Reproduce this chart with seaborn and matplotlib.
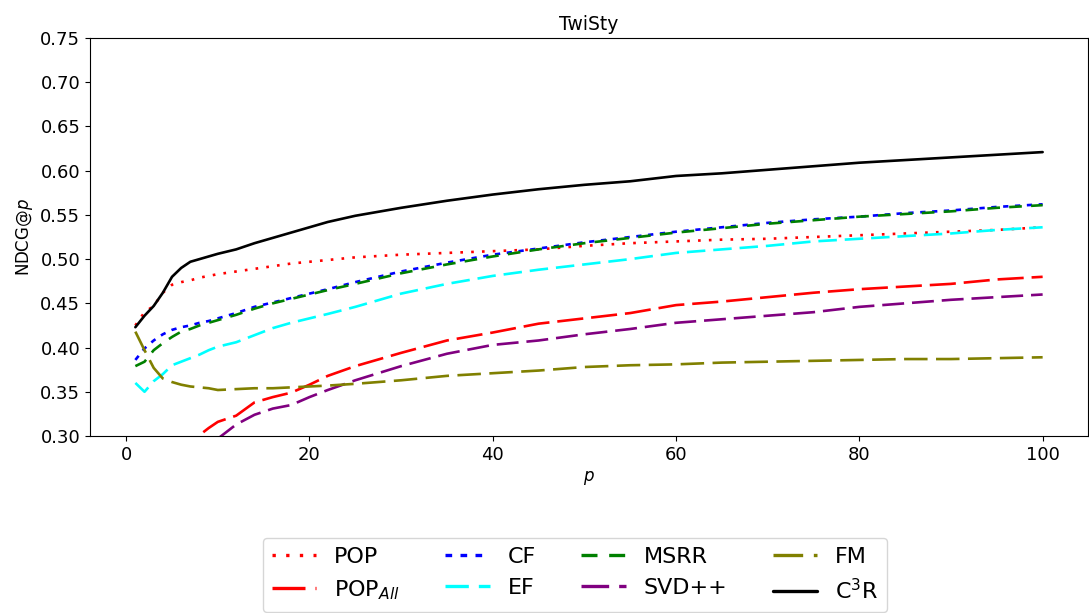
import numpy as np
import pandas as pd
import matplotlib
matplotlib.use("Agg")
import matplotlib.pyplot as plt
import seaborn as sns

p = [1, 2, 3, 4, 5, 6, 7, 8, 9, 10, 12, 14, 16, 18, 20, 22, 25, 30, 35, 40,
     45, 50, 55, 60, 65, 70, 75, 80, 85, 90, 95, 100]

pop = [0.425, 0.440, 0.447, 0.462, 0.471, 0.474, 0.476, 0.479, 0.481, 0.483, 0.486, 0.489,
       0.492, 0.495, 0.497, 0.499, 0.502, 0.505, 0.507, 0.509, 0.511, 0.515, 0.518, 0.520,
       0.522, 0.523, 0.525, 0.527, 0.529, 0.531, 0.533, 0.536]
pop_all = [0.220, 0.240, 0.255, 0.265, 0.275, 0.284, 0.292, 0.301, 0.309, 0.316, 0.323, 0.338,
           0.344, 0.349, 0.358, 0.368, 0.379, 0.394, 0.408, 0.417, 0.427, 0.433, 0.439, 0.448,
           0.452, 0.457, 0.462, 0.466, 0.469, 0.472, 0.477, 0.480]
cf = [0.386, 0.399, 0.408, 0.415, 0.420, 0.423, 0.425, 0.428, 0.430, 0.433, 0.439, 0.446,
      0.451, 0.456, 0.461, 0.466, 0.474, 0.486, 0.496, 0.505, 0.512, 0.519, 0.525, 0.531,
      0.536, 0.541, 0.545, 0.548, 0.552, 0.555, 0.559, 0.562]
ef = [0.360, 0.350, 0.362, 0.370, 0.380, 0.384, 0.388, 0.392, 0.397, 0.401, 0.406, 0.414,
      0.422, 0.428, 0.433, 0.438, 0.446, 0.461, 0.472, 0.481, 0.488, 0.494, 0.500, 0.507,
      0.511, 0.515, 0.520, 0.523, 0.526, 0.529, 0.533, 0.536]
msrr = [0.379, 0.384, 0.397, 0.405, 0.412, 0.418, 0.421, 0.425, 0.428, 0.431, 0.437, 0.444,
        0.450, 0.455, 0.460, 0.465, 0.472, 0.484, 0.494, 0.503, 0.511, 0.518, 0.524, 0.530,
        0.535, 0.540, 0.544, 0.548, 0.551, 0.554, 0.558, 0.561]
svdpp = [0.200, 0.220, 0.235, 0.245, 0.255, 0.265, 0.275, 0.283, 0.290, 0.297, 0.313, 0.324,
         0.331, 0.335, 0.344, 0.352, 0.363, 0.379, 0.393, 0.403, 0.408, 0.415, 0.421, 0.428,
         0.432, 0.436, 0.440, 0.446, 0.450, 0.454, 0.457, 0.460]
fm = [0.418, 0.397, 0.377, 0.365, 0.361, 0.358, 0.356, 0.355, 0.354, 0.352, 0.353, 0.354,
      0.354, 0.355, 0.356, 0.357, 0.359, 0.363, 0.368, 0.371, 0.374, 0.378, 0.380, 0.381,
      0.383, 0.384, 0.385, 0.386, 0.387, 0.387, 0.388, 0.389]
c3r = [0.423, 0.436, 0.447, 0.462, 0.480, 0.490, 0.497, 0.500, 0.503, 0.506, 0.511, 0.518,
       0.524, 0.530, 0.536, 0.542, 0.549, 0.558, 0.566, 0.573, 0.579, 0.584, 0.588, 0.594,
       0.597, 0.601, 0.605, 0.609, 0.612, 0.615, 0.618, 0.621]

methods = ["POP", "POP$_{All}$", "CF", "EF", "MSRR", "SVD++", "FM", "C$^3$R"]
series = [pop, pop_all, cf, ef, msrr, svdpp, fm, c3r]
colors = ["red", "red", "blue", "cyan", "green", "purple", "olive", "black"]
dash_specs = [(1.0, 3.1), (9.9, 3.0), (2.0, 2.5), (7.0, 3.0), (4.8, 3.5), (8.3, 3.0),
              (8.9, 3.2), ""]

df = pd.concat([pd.DataFrame({"p": p, "NDCG": v, "method": m})
                for m, v in zip(methods, series)], ignore_index=True)

sns.set_style("ticks")
plt.rcParams.update({
    "axes.edgecolor": "black", "xtick.color": "black", "ytick.color": "black",
    "text.color": "black", "axes.labelcolor": "black",
})
plt.rcParams["font.family"] = ["DejaVu Sans"]

fig = plt.figure(figsize=(10.89, 6.13), dpi=100)
ax = fig.add_axes([90 / 1089, 1 - 436 / 613, (1088 - 90) / 1089, (436 - 38) / 613])

sns.lineplot(data=df, x="p", y="NDCG", hue="method", style="method",
             hue_order=methods, style_order=methods,
             palette=dict(zip(methods, colors)),
             dashes=dict(zip(methods, dash_specs)),
             linewidth=1.9, ax=ax, legend=True)

ax.set_xlim(-3.95, 104.95)
ax.set_ylim(0.30, 0.75)
yt = np.arange(0.30, 0.751, 0.05)
ax.set_yticks(yt)
ax.set_yticklabels([f"{t:.2f}" for t in yt])
ax.set_xticks([0, 20, 40, 60, 80, 100])
ax.tick_params(labelsize=13)
ax.set_xlabel("$p$", fontsize=12)
ax.set_ylabel("NDCG@$p$", fontsize=12)
ax.set_title("TwiSty", fontsize=13.5)

handles, labels = ax.get_legend_handles_labels()
ax.get_legend().remove()
leg = fig.legend(handles, labels, loc="upper left",
                 bbox_to_anchor=(263 / 1089, 1 - 538 / 613), borderaxespad=0,
                 ncol=4, fontsize=16, frameon=True, columnspacing=2.05,
                 handlelength=2.0)
for ln in leg.get_lines():
    ln.set_linewidth(2.4)

fig.savefig("out.png", dpi=100)
